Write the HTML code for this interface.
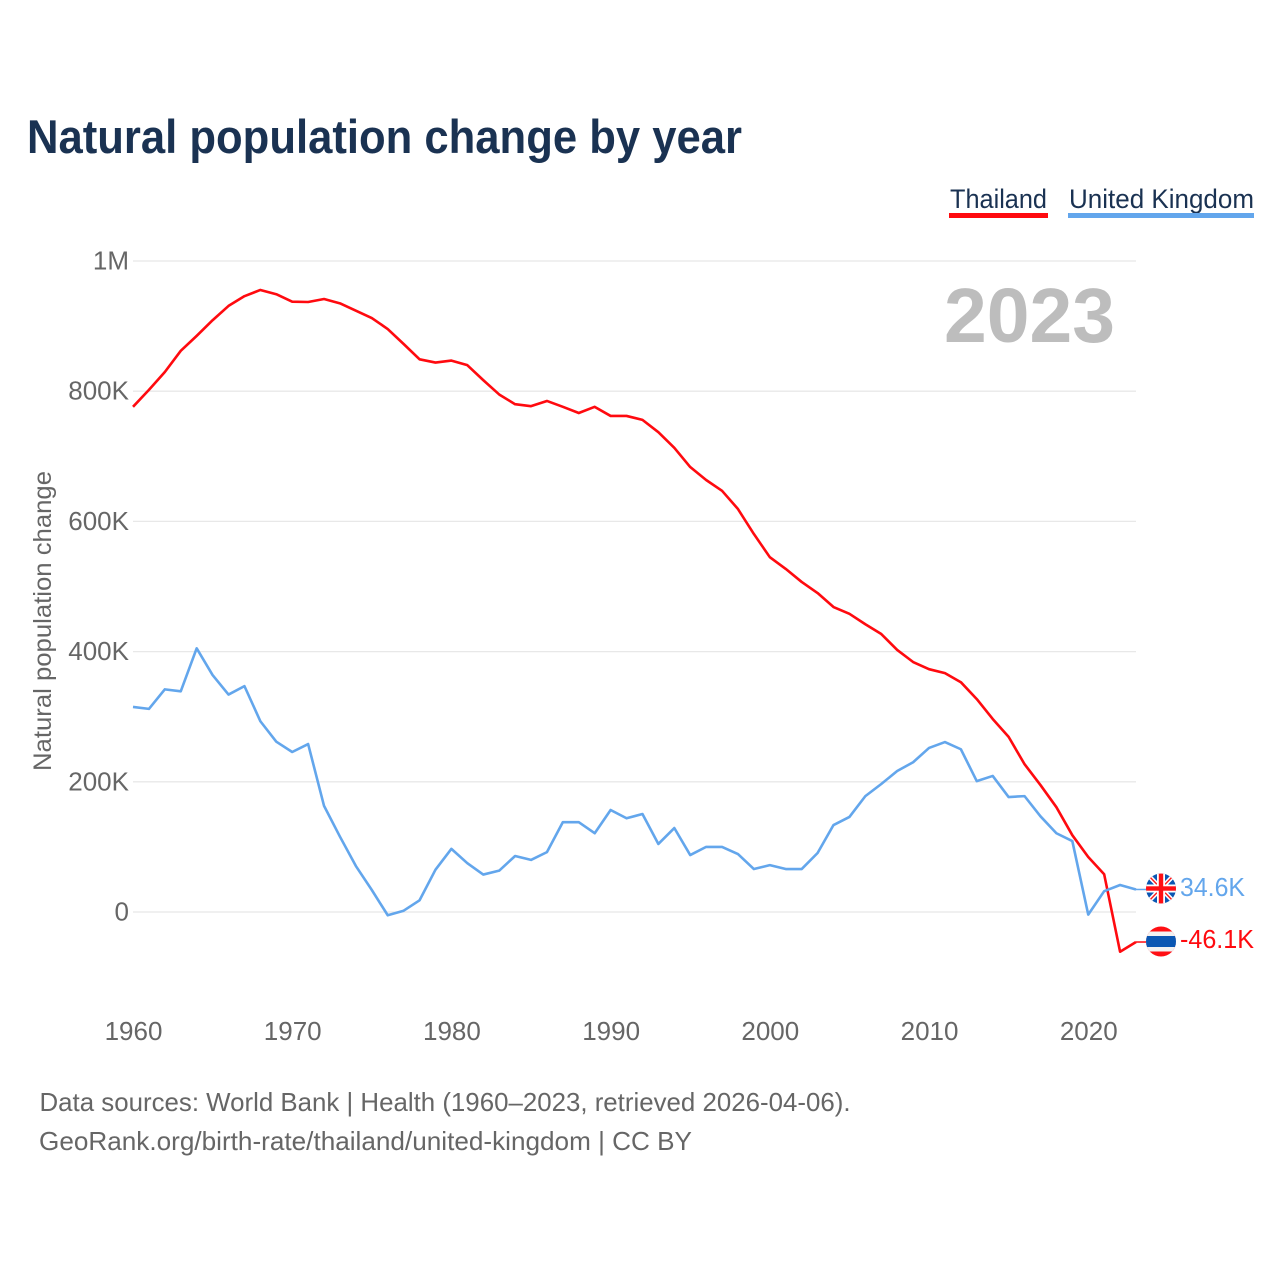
<!DOCTYPE html>
<html lang="en">
<head>
<meta charset="utf-8">
<title>Natural population change by year</title>
<style>
  html, body { margin: 0; padding: 0; background: #fff; }
  svg { display: block; font-family: "Liberation Sans", sans-serif; }
</style>
</head>
<body>
<svg id="chart" xmlns="http://www.w3.org/2000/svg" width="1280" height="1280" viewBox="0 0 1280 1280">
  <defs>
    <clipPath id="uk-clip"><circle cx="1161" cy="888.5" r="15"></circle></clipPath>
    <clipPath id="th-clip"><circle cx="1161" cy="941.5" r="15"></circle></clipPath>
  </defs>
  <rect x="0" y="0" width="1280" height="1280" fill="#ffffff"></rect>
  <text x="27" y="153" font-size="47" font-weight="700" fill="#1a3252" textLength="715" lengthAdjust="spacingAndGlyphs">Natural population change by year</text>

  <g>
    <g>
      <text x="950" y="208" font-size="27" fill="#1a3252" textLength="97" lengthAdjust="spacingAndGlyphs">Thailand</text>
      <rect x="949" y="213" width="99" height="5" fill="#ff0a0f"></rect>
    </g>
    <g>
      <text x="1069" y="208" font-size="27" fill="#1a3252" textLength="185" lengthAdjust="spacingAndGlyphs">United Kingdom</text>
      <rect x="1068" y="213" width="186" height="5" fill="#63a6ec"></rect>
    </g>
  </g>

  <g id="grid"></g>
  <g id="y-axis"></g>
  <g id="x-axis"></g>

  <text x="944" y="342" font-size="77" font-weight="700" fill="#bdbdbd" textLength="171" lengthAdjust="spacingAndGlyphs">2023</text>
  <text transform="translate(51 621) rotate(-90)" text-anchor="middle" font-size="25" fill="#666666" textLength="300" lengthAdjust="spacingAndGlyphs">Natural population change</text>

  <g id="series"></g>

  <g clip-path="url(#uk-clip)">
    <rect x="1146" y="873" width="30" height="31" fill="#0b57b3"></rect>
    <path d="M1146 873 L1176 904 M1176 873 L1146 904" stroke="#ffffff" stroke-width="4.5" fill="none"></path>
    <path d="M1146 873 L1176 904 M1176 873 L1146 904" stroke="#ff1a1a" stroke-width="1.4" fill="none"></path>
    <rect x="1146" y="884.5" width="30" height="8" fill="#ffffff"></rect>
    <rect x="1157" y="873" width="8" height="31" fill="#ffffff"></rect>
    <rect x="1146" y="886.3" width="30" height="4.4" fill="#ff0f14"></rect>
    <rect x="1158.8" y="873" width="4.4" height="31" fill="#ff0f14"></rect>
  </g>
  <g clip-path="url(#th-clip)">
    <rect x="1146" y="926" width="30" height="31" fill="#ff0f14"></rect>
    <rect x="1146" y="931.5" width="30" height="20" fill="#f2f2f2"></rect>
    <rect x="1146" y="936" width="30" height="11" fill="#0b57b3"></rect>
  </g>

  <text id="label-uk" x="1180" y="896" font-size="26" fill="#63a6ec" textLength="65" lengthAdjust="spacingAndGlyphs">34.6K</text>
  <text id="label-th" x="1180" y="948" font-size="26" fill="#ff0a0f" textLength="74" lengthAdjust="spacingAndGlyphs">-46.1K</text>

  <g>
    <text x="39.5" y="1111" font-size="26" fill="#666666" textLength="811" lengthAdjust="spacingAndGlyphs">Data sources: World Bank | Health (1960–2023, retrieved 2026-04-06).</text>
    <text x="39" y="1150" font-size="26" fill="#666666" textLength="653" lengthAdjust="spacingAndGlyphs">GeoRank.org/birth-rate/thailand/united-kingdom | CC BY</text>
  </g>
</svg>
<script>
const years = [1960,1961,1962,1963,1964,1965,1966,1967,1968,1969,1970,1971,1972,1973,1974,1975,1976,1977,1978,1979,1980,1981,1982,1983,1984,1985,1986,1987,1988,1989,1990,1991,1992,1993,1994,1995,1996,1997,1998,1999,2000,2001,2002,2003,2004,2005,2006,2007,2008,2009,2010,2011,2012,2013,2014,2015,2016,2017,2018,2019,2020,2021,2022,2023];
const thailandValues = [776000,802000,829500,862000,885000,909000,931000,946000,955500,949000,937500,937000,941600,935000,923600,912400,895500,872500,849000,844000,847000,840000,817000,795000,780000,777000,785000,776000,766500,776000,762000,762000,756000,737000,713000,683500,663600,647000,619000,580600,545000,527000,507000,490000,468500,458000,442000,427000,402500,384000,373000,367000,353000,327000,296500,269000,227000,195000,161000,118000,84500,58000,-61000,-46100];
const unitedKingdomValues = [315000,312000,342000,339000,405000,364000,334000,347000,293000,261600,245800,258000,163000,115700,70600,33800,-5000,2000,18000,65000,97000,75000,57500,63500,86000,80000,92000,138000,138000,121000,156700,144000,150500,104500,129000,87500,100000,100000,89000,66000,72000,66000,66000,90600,133600,146000,178000,196600,216600,230000,252000,261000,250000,201000,209000,176600,178000,147000,121000,109000,-4000,32000,41500,34600];
const xTickValues = [1960,1970,1980,1990,2000,2010,2020];
const yTickValues = [0,200000,400000,600000,800000,1000000];
const yTickLabels = ["0","200K","400K","600K","800K","1M"];

const NS = "http://www.w3.org/2000/svg";
function xScale(year) { return 133 + (year - 1960) * (1136 - 133) / (2023 - 1960); }
function yScale(value) { return 912 - value * 651 / 1000000; }
function make(tag, parent) {
  const el = document.createElementNS(NS, tag);
  parent.appendChild(el);
  return el;
}

const gridGroup = document.getElementById("grid");
const yAxisGroup = document.getElementById("y-axis");
const xAxisGroup = document.getElementById("x-axis");
const seriesGroup = document.getElementById("series");

yTickValues.forEach(function (value, i) {
  const line = make("line", gridGroup);
  
  
  line.setAttribute("x1", 133);
  line.setAttribute("x2", 1136);
  line.setAttribute("y1", yScale(value));
  line.setAttribute("y2", yScale(value));
  line.setAttribute("stroke", "#e8e8e8");
  line.setAttribute("stroke-width", 1.3);

  const label = make("text", yAxisGroup);
  
  
  label.setAttribute("x", 129);
  label.setAttribute("y", yScale(value) + 8.5);
  label.setAttribute("text-anchor", "end");
  label.setAttribute("font-size", "26");
  label.setAttribute("fill", "#666666");
  label.textContent = yTickLabels[i];
});

xTickValues.forEach(function (year) {
  const label = make("text", xAxisGroup);
  
  
  label.setAttribute("x", xScale(year) + 0.5);
  label.setAttribute("y", 1040);
  label.setAttribute("text-anchor", "middle");
  label.setAttribute("font-size", "26");
  label.setAttribute("fill", "#666666");
  label.textContent = String(year);
});

function linePoints(values) {
  return values.map(function (value, i) {
    return xScale(years[i]).toFixed(2) + "," + yScale(value).toFixed(2);
  }).join(" ");
}

const thailandLine = make("polyline", seriesGroup);


thailandLine.setAttribute("points", linePoints(thailandValues));
thailandLine.setAttribute("fill", "none");
thailandLine.setAttribute("stroke", "#ff0a0f");
thailandLine.setAttribute("stroke-width", 2.6);
thailandLine.setAttribute("stroke-linejoin", "round");

const unitedKingdomLine = make("polyline", seriesGroup);


unitedKingdomLine.setAttribute("points", linePoints(unitedKingdomValues));
unitedKingdomLine.setAttribute("fill", "none");
unitedKingdomLine.setAttribute("stroke", "#63a6ec");
unitedKingdomLine.setAttribute("stroke-width", 2.6);
unitedKingdomLine.setAttribute("stroke-linejoin", "round");

const thailandLeader = make("line", seriesGroup);


thailandLeader.setAttribute("x1", xScale(2023));
thailandLeader.setAttribute("x2", 1147);
thailandLeader.setAttribute("y1", yScale(thailandValues[thailandValues.length - 1]));
thailandLeader.setAttribute("y2", yScale(thailandValues[thailandValues.length - 1]));
thailandLeader.setAttribute("stroke", "#ff0a0f");
thailandLeader.setAttribute("stroke-width", 1.5);

const unitedKingdomLeader = make("line", seriesGroup);


unitedKingdomLeader.setAttribute("x1", xScale(2023));
unitedKingdomLeader.setAttribute("x2", 1147);
unitedKingdomLeader.setAttribute("y1", yScale(unitedKingdomValues[unitedKingdomValues.length - 1]));
unitedKingdomLeader.setAttribute("y2", yScale(unitedKingdomValues[unitedKingdomValues.length - 1]));
unitedKingdomLeader.setAttribute("stroke", "#63a6ec");
unitedKingdomLeader.setAttribute("stroke-width", 1.5);
</script>
</body>
</html>
